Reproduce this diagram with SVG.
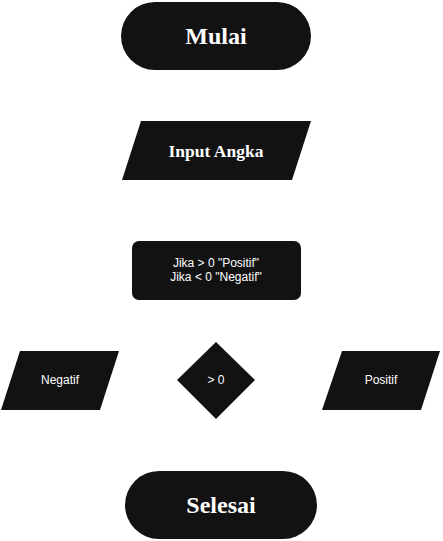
<svg xmlns="http://www.w3.org/2000/svg" width="443" height="541" viewBox="0 0 443 541">
<style>
.shape{fill:#121212;stroke:none}
.big{font-family:"Liberation Serif",serif;font-weight:bold;fill:#ffffff;text-anchor:middle}
.small{font-family:"Liberation Sans",Arial,sans-serif;font-size:12px;fill:#ffffff;text-anchor:middle}
</style>
<rect width="443" height="541" fill="#ffffff"/>
<g id="connectors"></g>
<g id="mulai">
<rect class="shape" x="121" y="2" width="190" height="68" rx="34"/>
<text class="big" x="216" y="44" font-size="24">Mulai</text>
</g>
<g id="input">
<polygon class="shape" points="141,121 311,121 292,180 122,180"/>
<text class="big" x="216" y="157" font-size="17.5">Input Angka</text>
</g>
<g id="proses">
<rect class="shape" x="132" y="241" width="169" height="59" rx="7"/>
<text class="small" x="216" y="267" font-size="11.5">Jika &gt; 0 "Positif"</text>
<text class="small" x="216" y="281" font-size="11.5">Jika &lt; 0 "Negatif"</text>
</g>
<g id="negatif">
<polygon class="shape" points="20,351 119,351 100,410 1,410"/>
<text class="small" x="60" y="384">Negatif</text>
</g>
<g id="keputusan">
<polygon class="shape" points="216,342 255,380 216,419 177,380"/>
<text class="small" x="216" y="384">&gt; 0</text>
</g>
<g id="positif">
<polygon class="shape" points="342,351 440,351 421,410 322,410"/>
<text class="small" x="381" y="384">Positif</text>
</g>
<g id="selesai">
<rect class="shape" x="125" y="471" width="192" height="68" rx="34"/>
<text class="big" x="221" y="513" font-size="24">Selesai</text>
</g>
</svg>
